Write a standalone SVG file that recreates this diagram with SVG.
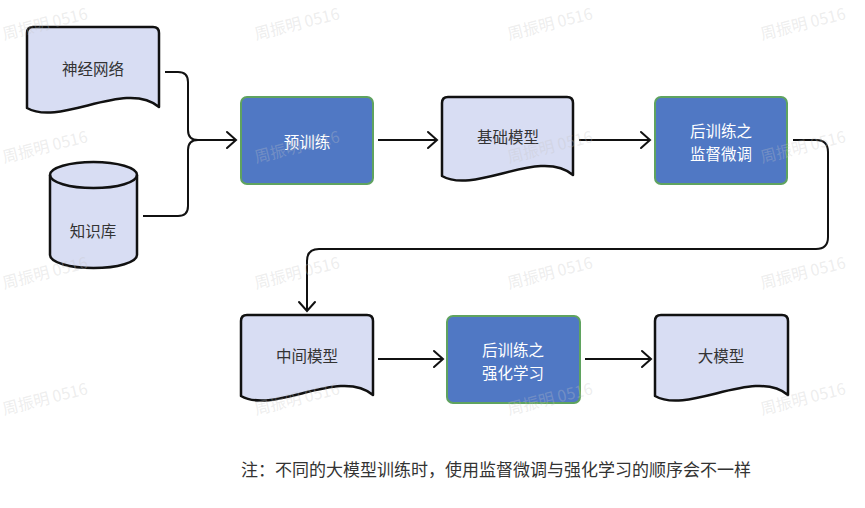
<svg xmlns="http://www.w3.org/2000/svg" width="865" height="508" viewBox="0 0 865 508">
<defs>
<style>
.doc{fill:#D8DDF3;stroke:#111;stroke-width:2.5;stroke-linejoin:round}
.proc{fill:#5078C4;stroke:#5FA35F;stroke-width:2}
.lbl{font-family:"Noto Sans CJK SC","Noto Sans",sans-serif;font-size:15.5px;fill:#333;text-anchor:middle;dominant-baseline:central}
.wl{fill:#fff}
.conn{fill:none;stroke:#111;stroke-width:2}
.note{font-family:"Noto Sans CJK SC","Noto Sans",sans-serif;font-size:17px;fill:#333}
.wm{font-family:"Noto Sans CJK SC","Noto Sans",sans-serif;font-size:16px;fill:#c4c4c4;fill-opacity:0.3}
</style>
<marker id="arr" viewBox="-11 -10 13 20" refX="0" refY="0" markerWidth="13" markerHeight="20" markerUnits="userSpaceOnUse" orient="auto">
<path d="M-9,-8 L0,0 L-9,8" fill="none" stroke="#111" stroke-width="2" stroke-linejoin="miter" stroke-linecap="round"/>
</marker>
</defs>
<rect width="865" height="508" fill="#fff"/>

<g id="connectors">
<path class="conn" d="M165,72 H178 Q188,72 188,82 V130 Q188,140 198,140 H236" marker-end="url(#arr)"/>
<path class="conn" d="M143,216 H178 Q188,216 188,206 V150 Q188,140 198,140"/>
<path class="conn" d="M378,140 H437" marker-end="url(#arr)"/>
<path class="conn" d="M579,140 H650" marker-end="url(#arr)"/>
<path class="conn" d="M793,140 H816 Q828,140 828,152 V237 Q828,249 816,249 H319 Q307,249 307,261 V311" marker-end="url(#arr)"/>
<path class="conn" d="M378,359 H443" marker-end="url(#arr)"/>
<path class="conn" d="M585,359 H651" marker-end="url(#arr)"/>
</g>

<g id="node-neural">
<path class="doc" d="M33,27 H153 Q159,27 159,33 V107 C126,79 60,127 27,108 V33 Q27,27 33,27 Z"/>
<text class="lbl" x="93" y="68">神经网络</text>
</g>

<g id="node-kb">
<path class="doc" d="M50,175 A43.5,13 0 0 1 137,175 V255 A43.5,13 0 0 1 50,255 Z"/>
<path class="doc" d="M50,175 A43.5,13 0 0 0 137,175" style="fill:none"/>
<text class="lbl" x="93" y="230">知识库</text>
</g>

<g id="node-pretrain">
<rect class="proc" x="241" y="97" width="132" height="87" rx="6"/>
<text class="lbl wl" x="307" y="141">预训练</text>
</g>

<g id="node-base">
<path class="doc" d="M448,97 H567 Q573,97 573,103 V175 C540,147 475,195 442,176 V103 Q442,97 448,97 Z"/>
<text class="lbl" x="508" y="136">基础模型</text>
</g>

<g id="node-sft">
<rect class="proc" x="655" y="97" width="132" height="87" rx="6"/>
<text class="lbl wl" x="721" y="130">后训练之</text>
<text class="lbl wl" x="721" y="153">监督微调</text>
</g>

<g id="node-mid">
<path class="doc" d="M247,315 H367 Q373,315 373,321 V395 C340,367 274,415 241,396 V321 Q241,315 247,315 Z"/>
<text class="lbl" x="307" y="355">中间模型</text>
</g>

<g id="node-rl">
<rect class="proc" x="447" y="316" width="133" height="87" rx="6"/>
<text class="lbl wl" x="513" y="349">后训练之</text>
<text class="lbl wl" x="513" y="372">强化学习</text>
</g>

<g id="node-llm">
<path class="doc" d="M661,315 H782 Q788,315 788,321 V395 C755,367 688,415 655,396 V321 Q655,315 661,315 Z"/>
<text class="lbl" x="721" y="355">大模型</text>
</g>

<text class="note" x="241" y="476">注：不同的大模型训练时，使用监督微调与强化学习的顺序会不一样</text>

<g id="watermark">
<text class="wm" transform="translate(4,40) rotate(-14)">周振明 0516</text>
<text class="wm" transform="translate(256,40) rotate(-14)">周振明 0516</text>
<text class="wm" transform="translate(509,40) rotate(-14)">周振明 0516</text>
<text class="wm" transform="translate(762,40) rotate(-14)">周振明 0516</text>
<text class="wm" transform="translate(4,163) rotate(-14)">周振明 0516</text>
<text class="wm" transform="translate(256,163) rotate(-14)">周振明 0516</text>
<text class="wm" transform="translate(509,163) rotate(-14)">周振明 0516</text>
<text class="wm" transform="translate(762,163) rotate(-14)">周振明 0516</text>
<text class="wm" transform="translate(4,289) rotate(-14)">周振明 0516</text>
<text class="wm" transform="translate(256,289) rotate(-14)">周振明 0516</text>
<text class="wm" transform="translate(509,289) rotate(-14)">周振明 0516</text>
<text class="wm" transform="translate(762,289) rotate(-14)">周振明 0516</text>
<text class="wm" transform="translate(4,415) rotate(-14)">周振明 0516</text>
<text class="wm" transform="translate(256,415) rotate(-14)">周振明 0516</text>
<text class="wm" transform="translate(509,415) rotate(-14)">周振明 0516</text>
<text class="wm" transform="translate(762,415) rotate(-14)">周振明 0516</text>
</g>
</svg>
